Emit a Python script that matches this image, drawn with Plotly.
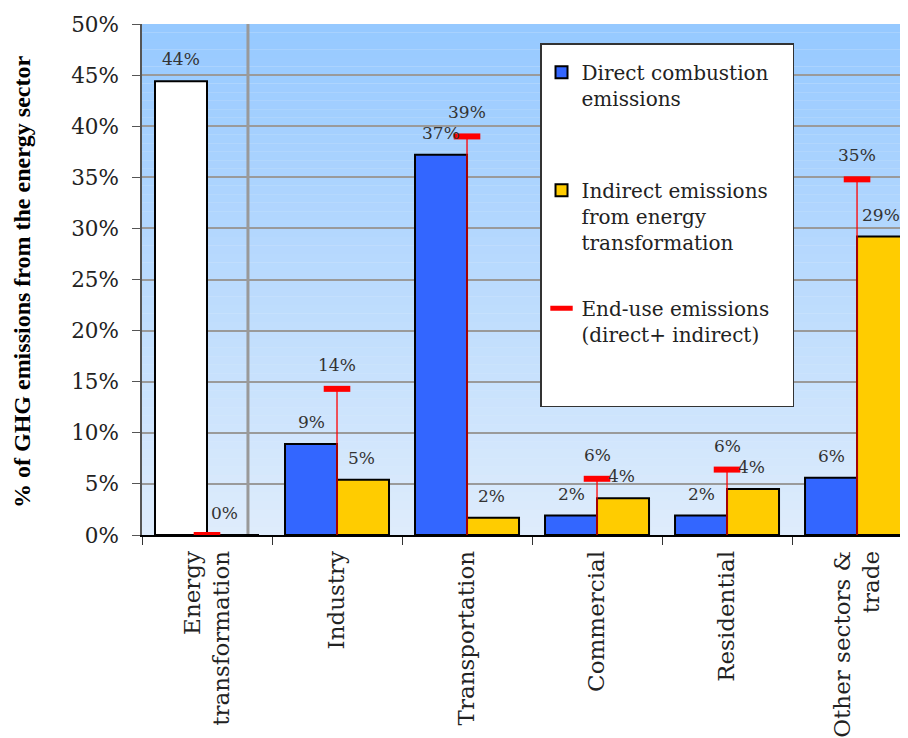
import plotly.graph_objects as go

# data (% of GHG emissions from the energy sector)
sectors = ["Energy<br>transformation", "Industry", "Transportation",
           "Commercial", "Residential", "Other sectors &<br>trade"]
direct = [44.4, 8.9, 37.2, 1.9, 1.9, 5.6]
indirect = [0.0, 5.4, 1.7, 3.6, 4.5, 29.2]
end_use = [0.0, 14.3, 39.0, 5.5, 6.4, 34.8]
direct_labels = ["44%", "9%", "37%", "2%", "2%", "6%"]
indirect_labels = ["0%", "5%", "2%", "4%", "4%", "29%"]
end_use_labels = ["", "14%", "39%", "6%", "6%", "35%"]

SERIF = "DejaVu Serif"
NB = "\u00a0"

fig = go.Figure()

# energy transformation itself is drawn as a white bar in the "direct" slot
fig.add_trace(go.Bar(
    x=sectors[:1], y=direct[:1], offsetgroup="direct",
    marker=dict(color="white", line=dict(color="black", width=2)),
    showlegend=False, hoverinfo="skip"))

fig.add_trace(go.Bar(
    x=sectors[1:], y=direct[1:], offsetgroup="direct",
    name="Direct combustion<br>emissions<br>" + NB, legendgroup="a",
    marker=dict(color="#3366FF", line=dict(color="black", width=2))))

fig.add_trace(go.Bar(
    x=sectors, y=indirect, offsetgroup="indirect",
    name="Indirect emissions" + NB * 3 + "<br>from energy<br>transformation", legendgroup="b",
    marker=dict(color="#FFCC00", line=dict(color="black", width=2))))

fig.add_trace(go.Scatter(
    x=sectors, y=end_use, mode="markers",
    name="End-use emissions<br>(direct+ indirect)<br>" + NB + "<br>" + NB, legendgroup="c",
    marker=dict(symbol="line-ew", size=19, color="red",
                line=dict(color="red", width=6)),
    error_y=dict(type="data", symmetric=False, array=[0] * len(end_use),
                 arrayminus=end_use, color="red", thickness=1.3, width=0)))

lab_font = dict(family=SERIF, size=17, color="#333")
annotations = []
for i, s in enumerate(sectors):
    annotations.append(dict(x=s, y=direct[i], text=direct_labels[i], xshift=-26, yshift=22,
                            showarrow=False, font=lab_font))
    annotations.append(dict(x=s, y=indirect[i], text=indirect_labels[i],
                            xshift=17 if indirect[i] == 0 else 24, yshift=22,
                            showarrow=False, font=lab_font))
    if end_use_labels[i]:
        annotations.append(dict(x=s, y=end_use[i], text=end_use_labels[i], yshift=24,
                                showarrow=False, font=lab_font))

annotations.append(dict(
    text="<b>% of GHG emissions from the energy sector</b>", textangle=-90,
    xref="paper", yref="paper", x=-0.1567, y=0.495, xanchor="center", yanchor="middle",
    showarrow=False, font=dict(family="Liberation Serif", size=24, color="black")))

# blue-to-pale vertical gradient behind the plot area
shapes = []
n = 60
top = (150, 201, 255)
bottom = (222, 236, 252)
for k in range(n):
    t = k / (n - 1)
    c = tuple(round(bottom[j] + (top[j] - bottom[j]) * t) for j in range(3))
    shapes.append(dict(type="rect", xref="paper", yref="paper",
                       x0=0, x1=1, y0=k / n, y1=(k + 1) / n,
                       fillcolor="rgb(%d,%d,%d)" % c, line=dict(width=0), layer="below"))
shapes.append(dict(type="line", xref="x", yref="paper", x0=0.315, x1=0.315, y0=0, y1=1,
                   line=dict(color="#999999", width=3), layer="below"))

# the page body keeps its default 8px margin, so the figure is 8px smaller
fig.update_layout(
    width=900, height=730,
    margin=dict(l=134, r=0, t=16, b=203),
    paper_bgcolor="white", plot_bgcolor="#dcebfb",
    barmode="group", bargap=0.2, bargroupgap=0,
    shapes=shapes, annotations=annotations,
    font=dict(family=SERIF, color="#222"),
    legend=dict(x=0.5196, y=0.962, xanchor="left", yanchor="top",
                bgcolor="white", bordercolor="#333", borderwidth=1.5,
                font=dict(family=SERIF, size=20, color="#222"),
                title=dict(text=NB, font=dict(size=6)),
                tracegroupgap=37, valign="top", traceorder="grouped"),
    xaxis=dict(type="category", range=[-0.5, 5.392], tickson="boundaries",
               ticks="outside", ticklen=8, tickcolor="#333", tickangle=-90,
               showline=True, linecolor="black", linewidth=1.5, showgrid=False,
               automargin=False, ticklabelstandoff=5,
               tickfont=dict(family=SERIF, size=23, color="#222")),
    yaxis=dict(range=[0, 50], dtick=5, ticksuffix="%", showgrid=True,
               gridcolor="#9a9a9a", gridwidth=1.5, ticks="outside", ticklen=8,
               tickcolor="#555", showline=True, linecolor="#555", linewidth=1.5,
               zeroline=False, automargin=False, ticklabelstandoff=9,
               tickfont=dict(family=SERIF, size=21.5, color="#222")),
)

fig.write_html("out.html")
